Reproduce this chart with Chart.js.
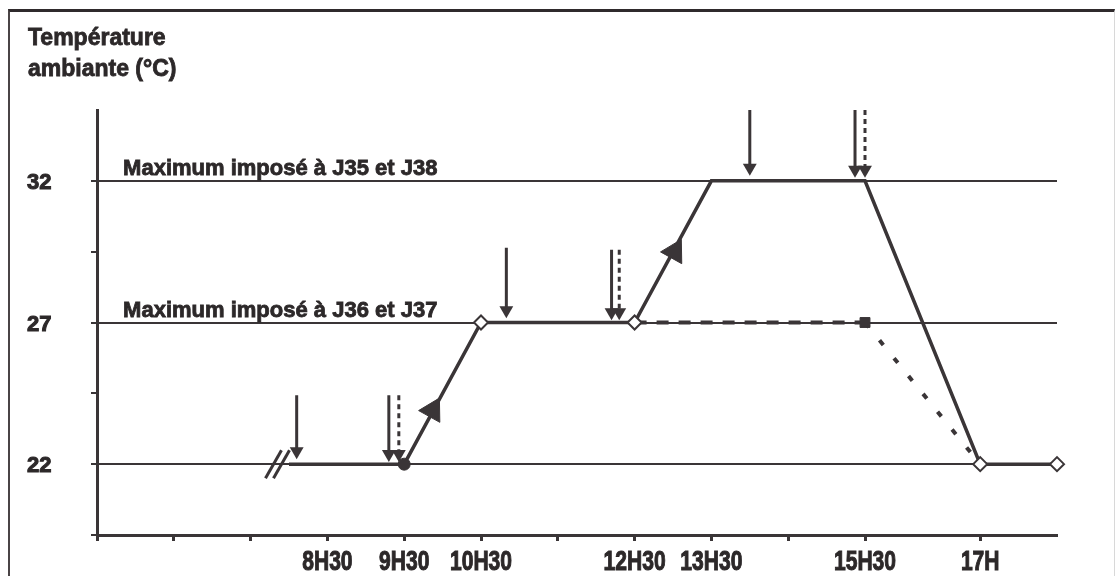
<!DOCTYPE html>
<html>
<head>
<meta charset="utf-8">
<script src="https://cdn.jsdelivr.net/npm/chart.js@4.4.1/dist/chart.umd.min.js"></script>
<style>
  html, body { margin: 0; padding: 0; background: #ffffff; }
  body { width: 1117px; height: 576px; position: relative; overflow: hidden; }
  #frame { position: absolute; left: 8px; top: 9px; width: 1104px; height: 600px;
           border-top: 3px solid #2f2a2c; border-left: 2px solid #4a4446; border-right: 1px solid #d8d8d8; }
  #wrap { position: absolute; left: 0; top: 0; width: 1117px; height: 576px; }
</style>
</head>
<body>
<div id="frame"></div>
<div id="wrap"><canvas id="c" width="1117" height="576"></canvas></div>
<script>
// ---------- DATA ----------
const titleLines = ['Température', 'ambiante (°C)'];

// time axis (hours)
const xTickHours  = [5.5, 6.5, 7.5, 8.5, 9.5, 10.5, 11.5, 12.5, 13.5, 14.5, 15.5, 17];
const xLabelHours = [8.5, 9.5, 10.5, 12.5, 13.5, 15.5, 17];
const xLabelText  = ['8H30', '9H30', '10H30', '12H30', '13H30', '15H30', '17H'];

// temperature axis
const yTickValues = [19.5, 22, 24.5, 27, 29.5, 32];
const yLabelValues = [22, 27, 32];

// profile J35 / J38 (solid)
const solidHours = [8.0, 9.5, 10.5, 12.5, 13.5, 15.5, 17, 18];
const solidTemps = [22, 22, 27, 27, 32, 32, 22, 22];

// profile J36 / J37 (dashed then dotted)
const dashedHours = [12.5, 15.5, 17];
const dashedTemps = [27, 27, 22];

// open diamond markers
const diamondHours = [10.5, 12.5, 17, 18];
const diamondTemps = [27, 27, 22, 22];
// dark markers
const blobHours = [9.5];   const blobTemps = [22];
const squareHours = [15.5]; const squareTemps = [27];

// upward arrowheads on the rising slopes
const upArrowHours = [9.87, 13.02];
const upArrowTemps = [23.9, 29.5];

// vertical downward arrows: hour, top temp, head temp
const solidArrowHours = [8.1, 9.3, 10.83, 12.2, 14.0, 15.37];
const solidArrowTops  = [24.43, 24.43, 29.64, 29.57, 34.5, 34.5];
const solidArrowHeads = [22.46, 22.36, 27.43, 27.36, 32.46, 32.39];
const dashArrowHours  = [9.43, 12.3, 15.5];
const dashArrowTops   = [24.43, 29.57, 34.5];
const dashArrowHeads  = [22.36, 27.36, 32.39];

// labels of the maxima
const maxLabels = ['Maximum imposé à J35 et J38', 'Maximum imposé à J36 et J37'];
const maxLabelTemps = [32, 27];
const maxLabelHour = 5.84;

// axis break mark
const breakHour = 7.85;
const breakTemp = 22;

// ---------- CHART ----------
const INK = '#3a3537';
const TXT = '#2c2829';
const FONT = '"Liberation Sans", Arial, sans-serif';

const pts = (xs, ys) => xs.map((x, i) => ({ x: x, y: ys[i] }));

const datasets = [];

datasets.push({
  label: 'J35/J38', data: pts(solidHours, solidTemps), showLine: true,
  borderColor: INK, borderWidth: 3.5, pointRadius: 0, order: 5
});
datasets.push({
  label: 'J36/J37', data: pts(dashedHours, dashedTemps), showLine: true,
  borderColor: INK, borderWidth: 4, pointRadius: 0, order: 4,
  segment: { borderDash: ctx => ctx.p0DataIndex === 0 ? [12, 10] : [6, 17] }
});
solidArrowHours.forEach((h, i) => {
  datasets.push({
    label: 'arrow', data: [{ x: h, y: solidArrowTops[i] }, { x: h, y: solidArrowHeads[i] }],
    showLine: true, borderColor: INK, borderWidth: 3, backgroundColor: INK,
    pointStyle: 'triangle', rotation: 180, pointBorderWidth: 0,
    pointRadius: ctx => ctx.dataIndex === 1 ? 8 : 0, order: 3
  });
});
dashArrowHours.forEach((h, i) => {
  datasets.push({
    label: 'arrowd', data: [{ x: h, y: dashArrowTops[i] }, { x: h, y: dashArrowHeads[i] }],
    showLine: true, borderColor: INK, borderWidth: 3, borderDash: [5, 4], backgroundColor: INK,
    pointStyle: 'triangle', rotation: 180, pointBorderWidth: 0,
    pointRadius: ctx => ctx.dataIndex === 1 ? 8 : 0, order: 3
  });
});
datasets.push({
  label: 'up', data: pts(upArrowHours, upArrowTemps), showLine: false,
  pointStyle: 'triangle', rotation: 29, pointRadius: 14, backgroundColor: INK,
  borderColor: INK, pointBorderWidth: 1, order: 2
});
datasets.push({
  label: 'blob', data: pts(blobHours, blobTemps), showLine: false,
  pointStyle: 'circle', pointRadius: 6, backgroundColor: INK, borderColor: INK, order: 1
});
datasets.push({
  label: 'square', data: pts(squareHours, squareTemps), showLine: false,
  pointStyle: 'rect', pointRadius: 7, backgroundColor: INK, borderColor: INK, order: 1
});
datasets.push({
  label: 'diamond', data: pts(diamondHours, diamondTemps), showLine: false, clip: false,
  pointStyle: 'rectRot', pointRadius: 7, backgroundColor: '#ffffff', borderColor: INK,
  pointBorderWidth: 2, order: 0
});

function heavyText(ctx, t, x, y) {
  ctx.strokeText(t, x, y);
  ctx.fillText(t, x, y);
}

const annotate = {
  id: 'annotate',
  afterDatasetsDraw(chart) {
    const ctx = chart.ctx;
    const xs = chart.scales.x, ys = chart.scales.y;
    ctx.save();
    ctx.fillStyle = TXT;
    ctx.strokeStyle = TXT;
    ctx.lineWidth = 0.8;
    ctx.textBaseline = 'alphabetic';
    ctx.textAlign = 'left';
    // title
    ctx.font = 'bold 23px ' + FONT;
    titleLines.forEach((t, i) => heavyText(ctx, t, 28, 45 + i * 31));
    // maxima labels
    ctx.font = 'bold 22px ' + FONT;
    maxLabels.forEach((t, i) => {
      heavyText(ctx, t, xs.getPixelForValue(maxLabelHour), ys.getPixelForValue(maxLabelTemps[i]) - 6);
    });
    // y-axis labels (temperatures)
    ctx.font = 'bold 22px ' + FONT;
    ctx.textBaseline = 'middle';
    ctx.lineWidth = 1;
    yLabelValues.forEach(v => {
      heavyText(ctx, String(v), ys.left, ys.getPixelForValue(v) + 2);
    });
    // condensed x-axis labels (time of day)
    ctx.font = 'bold 27px ' + FONT;
    ctx.textAlign = 'center';
    ctx.textBaseline = 'alphabetic';
    const labelBase = xs.top + 35;
    xLabelHours.forEach((h, i) => {
      ctx.save();
      ctx.translate(xs.getPixelForValue(h), labelBase);
      ctx.scale(0.78, 1);
      heavyText(ctx, xLabelText[i], 0, 0);
      ctx.restore();
    });
    // axis break
    const bx = xs.getPixelForValue(breakHour), by = ys.getPixelForValue(breakTemp);
    ctx.strokeStyle = INK; ctx.lineWidth = 3;
    [-4, 4].forEach(o => {
      ctx.beginPath();
      ctx.moveTo(bx + o - 8, by + 14);
      ctx.lineTo(bx + o + 8, by - 14);
      ctx.stroke();
    });
    ctx.restore();
  }
};

new Chart(document.getElementById('c'), {
  type: 'scatter',
  data: { datasets: datasets },
  options: {
    responsive: false,
    animation: false,
    layout: { padding: { left: 27, right: 60, top: 110, bottom: 0 } },
    plugins: { legend: { display: false }, tooltip: { enabled: false }, title: { display: false } },
    scales: {
      x: {
        type: 'linear', min: 5.5, max: 18,
        afterBuildTicks: s => { s.ticks = xTickHours.map(v => ({ value: v })); },
        afterFit: s => { s.height = 41; },
        border: { color: INK, width: 3 },
        grid: { drawOnChartArea: false, tickLength: 6, tickColor: INK, tickWidth: 3 },
        ticks: { display: false }
      },
      y: {
        type: 'linear', min: 19.5, max: 34.5,
        afterBuildTicks: s => { s.ticks = yTickValues.map(v => ({ value: v })); },
        afterFit: s => { s.width = 70; },
        border: { color: INK, width: 3 },
        grid: {
          color: c => (c.tick && yLabelValues.includes(c.tick.value)) ? INK : 'rgba(0,0,0,0)',
          lineWidth: 2, tickLength: 6, tickColor: INK, tickWidth: 2
        },
        ticks: { display: false }
      }
    }
  },
  plugins: [annotate]
});
</script>
</body>
</html>
